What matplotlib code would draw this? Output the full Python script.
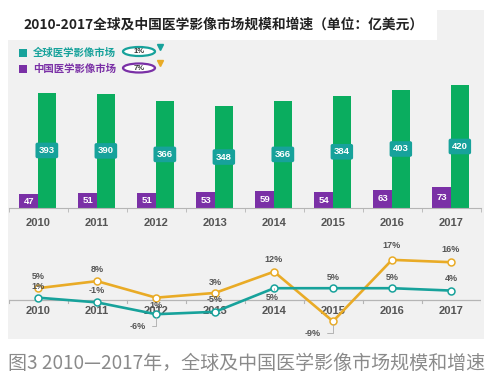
import matplotlib
matplotlib.use("Agg")
import matplotlib.pyplot as plt
from matplotlib.patches import Rectangle, Ellipse
import numpy as np

plt.rcParams['font.family'] = ['Noto Sans CJK SC', 'DejaVu Sans']

# data
years = ['2010', '2011', '2012', '2013', '2014', '2015', '2016', '2017']
global_size = [393, 390, 366, 348, 366, 384, 403, 420]
china_size = [47, 51, 51, 53, 59, 54, 63, 73]
global_growth = [1, -1, -6, -5, 5, 5, 5, 4]
china_growth = [5, 8, 1, 3, 12, -9, 17, 16]

title = '2010-2017全球及中国医学影像市场规模和增速（单位：亿美元）'
caption = '图3 2010—2017年，全球及中国医学影像市场规模和增速'
legend_names = ['全球医学影像市场', '中国医学影像市场']
legend_rates = ['1%', '7%']

GREEN = '#0aad5f'
TEAL = '#17a29b'
PURPLE = '#7a30a6'
ORANGE = '#e9ab26'
BG = '#f1f1f1'
TXT = '#555555'
NUM = ['Liberation Sans', 'DejaVu Sans']

W, H = 490, 379
fig = plt.figure(figsize=(W / 100, H / 100), dpi=100)


def fx(x):
    return x / W


def fy(y):
    return 1 - y / H


# gray panel and white title box
fig.patches.append(Rectangle((fx(8), fy(339)), fx(476), 329 / H, transform=fig.transFigure,
                             facecolor=BG, edgecolor='none', zorder=-3))
fig.patches.append(Rectangle((fx(8), fy(40)), fx(429), 30 / H, transform=fig.transFigure,
                             facecolor='white', edgecolor='none', zorder=-2))
fig.text(fx(23), fy(25), title, fontsize=9.9, fontweight='bold', color='#222222', va='center')

# legend
for i, (name, rate, col, tri) in enumerate(zip(legend_names, legend_rates, [TEAL, PURPLE], [TEAL, ORANGE])):
    yc = 52.5 + i * 16.5
    fig.patches.append(Rectangle((fx(18.5), fy(yc + 4)), fx(8), 8 / H, transform=fig.transFigure,
                                 facecolor=col, edgecolor='none'))
    fig.text(fx(33), fy(yc), name, fontsize=7.5, fontweight='bold', color=col, va='center')
    fig.patches.append(Ellipse((fx(139), fy(yc - 1)), fx(32), 9 / H, transform=fig.transFigure,
                               facecolor='white', edgecolor=col, lw=1.6))
    fig.text(fx(139), fy(yc - 1), rate, fontsize=5.5, fontweight='bold', color='#333333',
             ha='center', va='center', family=NUM)
    fig.lines.append(plt.Line2D([fx(160)], [fy(yc - 6)], marker='v', color=tri, markersize=4,
                                transform=fig.transFigure))

x = np.arange(len(years))

# bar panel
ax1 = fig.add_axes([fx(8.5), fy(208), fx(472), 128 / H])
ax1.set_facecolor('none')
ax1.bar(x - 0.155, china_size, width=0.32, color=PURPLE)
ax1.bar(x + 0.15, global_size, width=0.3, color=GREEN)
for xi, g, c in zip(x, global_size, china_size):
    ax1.text(xi + 0.15, g / 2, str(g), ha='center', va='center', color='white', fontsize=6.8,
             fontweight='bold', family=NUM,
             bbox=dict(boxstyle='round,pad=0.35,rounding_size=0.2', fc=TEAL, ec='none'))
    ax1.text(xi - 0.155, c / 2, str(c), ha='center', va='center', color='white', fontsize=6.8,
             fontweight='bold', family=NUM)
ax1.set_xlim(-0.5, len(years) - 0.5)
ax1.set_ylim(0, 437)
ax1.set_yticks([])
for s in ['top', 'right', 'left']:
    ax1.spines[s].set_visible(False)
ax1.spines['bottom'].set_color('#b5b5b5')
ax1.set_xticks(x)
ax1.set_xticklabels(years, fontsize=8, fontweight='bold', color=TXT, family=NUM)
ax1.tick_params(axis='x', length=0, pad=7)
ax1.set_xticks(np.arange(-0.5, len(years)), minor=True)
ax1.tick_params(axis='x', which='minor', length=3, color='#b5b5b5')

# growth panel
ax2 = fig.add_axes([fx(8.5), fy(335), fx(472), 95 / H])
ax2.set_facecolor('none')
ax2.set_xlim(-0.5, len(years) - 0.5)
ax2.set_ylim(-14.8, 25.4)
ax2.axhline(0, color='#b5b5b5', lw=0.9, zorder=1)
for xb in np.arange(-0.5, len(years)):
    ax2.plot([xb, xb], [0, -1.2], color='#b5b5b5', lw=0.8, zorder=1)
for xi, yr in zip(x, years):
    ax2.text(xi, -4.7, yr, ha='center', va='center', fontsize=8, fontweight='bold',
             color=TXT, family=NUM, zorder=2)
ax2.plot(x, china_growth, color=ORANGE, lw=1.9, marker='o', markersize=5,
         markerfacecolor='white', markeredgecolor=ORANGE, markeredgewidth=1.1, zorder=3)
ax2.plot(x, global_growth, color=TEAL, lw=1.9, marker='o', markersize=5,
         markerfacecolor='white', markeredgecolor=TEAL, markeredgewidth=1.1, zorder=4)
ax2.axis('off')

# label offsets in pixels (dx, dy)
china_off = [(0, 12), (0, 12), (0, -8), (0, 10), (0, 12), (-20, -12), (0, 14), (0, 13)]
global_off = [(0, 11), (0, 12), (-18, -12), (0, 12), (-2, -9), (0, 11), (0, 11), (0, 12)]

for vals, offs in [(china_growth, china_off), (global_growth, global_off)]:
    for xi, v, (dx, dy) in zip(x, vals, offs):
        lead = dict(arrowstyle='-', color='#aaaaaa', lw=0.6,
                    connectionstyle='angle,angleA=0,angleB=90,rad=0') if dx != 0 and dy < 0 else None
        ax2.annotate(f'{v}%', (xi, v), xytext=(dx, dy), textcoords='offset pixels',
                     ha='center', va='center', fontsize=6.5, fontweight='bold', color=TXT,
                     family=NUM, arrowprops=lead, zorder=5)

fig.text(fx(8), fy(363), caption, fontsize=13.7, color='#8a8a8a', va='center')

fig.savefig('out.png', dpi=100, facecolor='white')
